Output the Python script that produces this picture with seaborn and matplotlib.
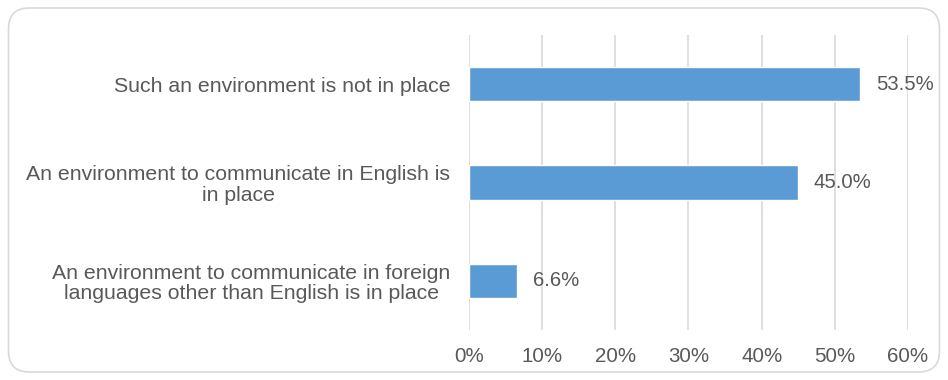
import matplotlib
matplotlib.use("Agg")
import matplotlib.pyplot as plt
from matplotlib.patches import FancyBboxPatch
from matplotlib.ticker import FuncFormatter
import seaborn as sns
import pandas as pd

categories = [
    "Such an environment is not in place",
    "An environment to communicate in English is\nin place",
    "An environment to communicate in foreign\nlanguages other than English is in place",
]
shares = [53.5, 45.0, 6.6]
x_ticks = [0, 10, 20, 30, 40, 50, 60]

df = pd.DataFrame({"category": categories, "share": shares})

sns.set_theme(style="white")
plt.rcParams["font.family"] = ["Liberation Sans", "DejaVu Sans"]

text_color = "#595959"
grid_color = "#D9D9D9"
bar_color = "#5B9BD5"

fig = plt.figure(figsize=(9.48, 3.8), dpi=100)
ax = fig.add_axes([0.4947, 0.1316, 0.9578 - 0.4947, 0.9079 - 0.1316])

sns.barplot(data=df, x="share", y="category", orient="h", color=bar_color,
            saturation=1, width=0.35, ax=ax)

ax.set_xlim(0, 60)
ax.set_xticks(x_ticks)
ax.xaxis.set_major_formatter(FuncFormatter(lambda v, _: f"{v:.0f}%"))
ax.set_xlabel("")
ax.set_ylabel("")
ax.xaxis.grid(True, color=grid_color, linewidth=1.2)
ax.set_axisbelow(True)
for s in ax.spines.values():
    s.set_visible(False)
ax.tick_params(axis="both", length=0, colors=text_color, labelsize=14.8)
ax.tick_params(axis="x", pad=12)
ax.tick_params(axis="y", pad=13.5, labelsize=15.3)
for lbl in ax.get_yticklabels():
    lbl.set_multialignment("center")
    lbl.set_linespacing(1.1)

for cont in ax.containers:
    ax.bar_label(cont, labels=[f"{v:.1f}%" for v in shares], padding=11,
                 color=text_color, fontsize=14.6)

frame = FancyBboxPatch((0.009, 0.021), 0.982, 0.958,
                       boxstyle="round,pad=0,rounding_size=0.022",
                       transform=fig.transFigure, facecolor="none",
                       edgecolor=grid_color, linewidth=1.2,
                       mutation_aspect=948 / 380)
fig.patches.append(frame)

fig.savefig("out.png", dpi=100)
